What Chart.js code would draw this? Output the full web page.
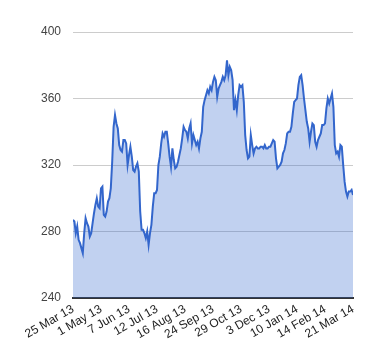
<!DOCTYPE html>
<html>
<head>
<meta charset="utf-8">
<script src="https://cdn.jsdelivr.net/npm/chart.js@4/dist/chart.umd.min.js"></script>
<style>
  body { margin: 0; background: #fff; }
</style>
</head>
<body>
<canvas id="myChart" width="380" height="360"></canvas>
<script>
const ctx = document.getElementById("myChart");

// Closing price, one value per step
const values = [
  287, 286, 279, 283, 275, 273, 270, 267, 279, 288,
  285, 283, 277, 279, 285, 291, 296, 300, 295, 294,
  306, 307, 290, 289, 292, 298, 300, 306, 322, 343,
  350, 345, 342, 332, 329, 328, 335, 335, 333, 320,
  326, 331, 325, 317, 316, 319, 321, 316, 292, 281,
  281, 279, 276, 280, 272, 279, 284, 295, 303, 303,
  305, 320, 325, 333, 339, 337, 340, 340, 333, 325,
  319, 330, 323, 318, 319, 322, 326, 330, 336, 343,
  341, 340, 336, 342, 345, 333, 338, 335, 332, 334,
  330, 336, 340, 355, 359, 362, 365, 363, 367, 365,
  370, 373, 371, 361, 366, 368, 370, 373, 371, 374,
  383, 374, 379, 377, 371, 353, 359, 353, 362, 368,
  367, 368, 358, 338, 329, 324, 325, 338, 332, 327,
  330, 331, 330, 330, 331, 331, 330, 332, 330, 330,
  331, 331, 333, 335, 334, 324, 318, 319, 320, 322,
  327, 329, 333, 339, 340, 340, 343, 351, 358, 359,
  360, 368, 373, 374, 368, 360, 353, 346, 342, 334,
  340, 345, 344, 334, 331, 335, 337, 339, 344, 344,
  345, 354, 360, 357, 360, 363, 355, 332, 327, 328,
  325, 332, 331, 320, 310, 304, 301, 304, 304, 305,
  302
];

// Date labels shown under the axis, one every `labelEvery` steps
const tickLabels = [
  "25 Mar 13", "1 May 13", "7 Jun 13", "12 Jul 13", "16 Aug 13",
  "24 Sep 13", "29 Oct 13", "3 Dec 13", "10 Jan 14", "14 Feb 14",
  "21 Mar 14"
];
const labelEvery = 20;

const yTicks = [240, 280, 320, 360, 400];

new Chart(ctx, {
  type: "line",
  data: {
    datasets: [
      {
        data: values.map((v, i) => ({ x: i, y: v })),
        borderColor: "#3366cc",
        borderWidth: 2,
        backgroundColor: "rgba(51, 102, 204, 0.3)",
        fill: "start",
        pointRadius: 0,
        tension: 0,
      },
    ],
  },
  options: {
    responsive: false,
    animation: false,
    layout: {
      padding: { top: 32, right: 27, left: 0, bottom: 0 },
    },
    plugins: {
      legend: { display: false },
      tooltip: { enabled: false },
    },
    scales: {
      x: {
        type: "linear",
        min: 0,
        max: values.length - 1,
        z: 1,
        afterFit: (scale) => {
          scale.height = 62;
        },
        grid: { display: false, drawTicks: false },
        border: { display: true, color: "#333", width: 2 },
        ticks: {
          stepSize: labelEvery,
          autoSkip: false,
          minRotation: 30,
          maxRotation: 30,
          padding: 4,
          color: "#222",
          font: { family: "Liberation Sans, Arial", size: 12 },
          callback: (value) => tickLabels[value / labelEvery],
        },
      },
      y: {
        min: yTicks[0],
        max: yTicks[yTicks.length - 1],
        afterFit: (scale) => {
          scale.width = 73;
        },
        afterBuildTicks: (scale) => {
          scale.ticks = yTicks.map((v) => ({ value: v }));
        },
        grid: { color: "#cccccc", drawTicks: false },
        border: { display: false },
        ticks: {
          padding: 12,
          color: "#444",
          font: { family: "Liberation Sans, Arial", size: 12 },
        },
      },
    },
  },
});
</script>
</body>
</html>
